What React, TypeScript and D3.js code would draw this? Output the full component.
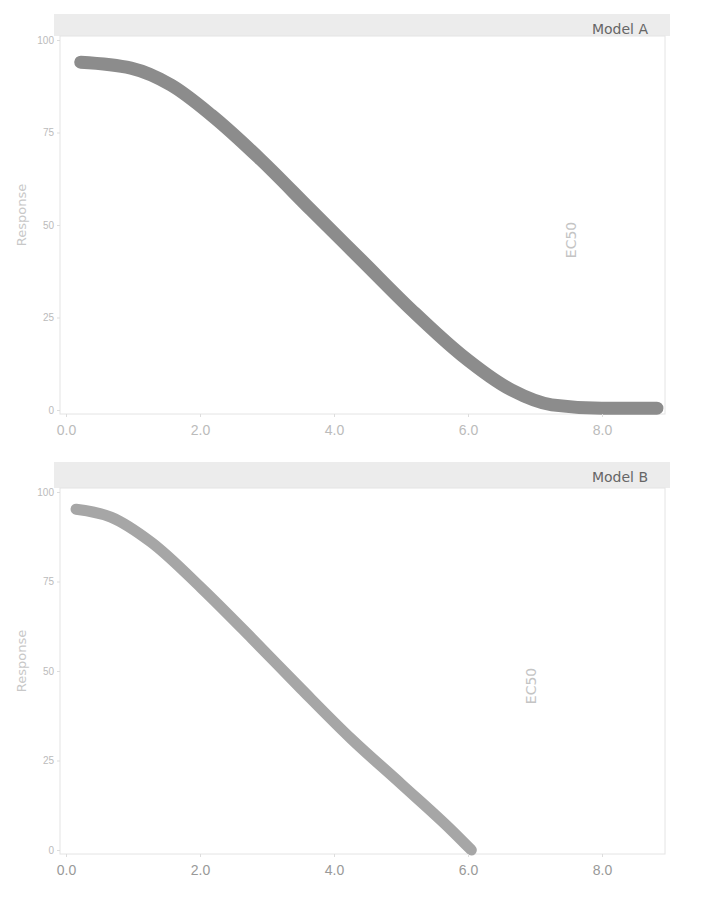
import React, { useEffect, useRef } from 'react';
import * as d3 from 'd3';

// values (x in dose units, y in percent)
const topDose = [0.22, 0.97, 1.57, 2.17, 2.91, 3.66, 4.41, 5.16, 5.9, 6.65, 7.25, 8.0, 8.82];
const topResponse = [94, 92.4, 87.8, 79.7, 67.6, 54, 40.5, 27, 14.9, 5.4, 1.4, 0.5, 0.5];
const bottomDose = [0.15, 0.67, 1.27, 2.02, 2.77, 3.51, 4.26, 5.01, 5.75, 6.05];
const bottomResponse = [95.2, 93, 86, 73.2, 59.2, 45, 31, 18.3, 5.6, 0];
const xTicks = [0, 2, 4, 6, 8];
const yTicks = [0, 25, 50, 75, 100];
const panelTitles = ['Model A', 'Model B'];
const panelNotes = ['EC50', 'EC50'];

const width = 688;
const height = 899;

const App: React.FC = () => {
  const ref = useRef<SVGSVGElement>(null);

  useEffect(() => {
    const svg = d3.select(ref.current);
    svg.selectAll('*').remove();

    const x = d3.scaleLinear().domain([0, 8]).range([58, 594]);

    const panels = [
      { top: 32, bottom: 402, strip: 6, dose: topDose, resp: topResponse },
      { top: 484, bottom: 842, strip: 454, dose: bottomDose, resp: bottomResponse },
    ];

    panels.forEach((p, i) => {
      const y = d3.scaleLinear().domain([0, 100]).range([p.bottom, p.top]);
      const g = svg.append('g');

      // strip header
      g.append('rect')
        .attr('x', 46)
        .attr('y', p.strip)
        .attr('width', 616)
        .attr('height', p.top - p.strip - 4)
        .attr('fill', '#ececec');
      g.append('text')
        .attr('x', 640)
        .attr('y', p.strip + 20)
        .attr('text-anchor', 'end')
        .attr('font-family', 'DejaVu Sans')
        .attr('font-size', 14)
        .attr('fill', '#666')
        .text(panelTitles[i]);

      // frame
      g.append('rect')
        .attr('x', 52)
        .attr('y', p.top - 4)
        .attr('width', 605)
        .attr('height', p.bottom - p.top + 8)
        .attr('fill', 'none')
        .attr('stroke', '#e4e4e4');

      const line = d3
        .line<number>()
        .x((_d, k) => x(p.dose[k]))
        .y((d) => y(d))
        .curve(d3.curveMonotoneX);

      g.append('path')
        .datum(p.resp)
        .attr('d', line)
        .attr('fill', 'none')
        .attr('stroke', i === 0 ? '#8c8c8c' : '#a6a6a6')
        .attr('stroke-width', i === 0 ? 13 : 11)
        .attr('stroke-linecap', 'round');

      // axes
      const yAxis = g
        .append('g')
        .attr('transform', `translate(52,0)`)
        .call(d3.axisLeft(y).tickValues(yTicks).tickSize(3));
      yAxis.select('.domain').remove();
      yAxis.selectAll('text').attr('fill', '#bbb').attr('font-size', 10);
      yAxis.selectAll('line').attr('stroke', '#ddd');

      const xAxis = g
        .append('g')
        .attr('transform', `translate(0,${p.bottom + 4})`)
        .call(d3.axisBottom(x).tickValues(xTicks).tickSize(3).tickFormat(d3.format('.1f')));
      xAxis.select('.domain').remove();
      xAxis
        .selectAll('text')
        .attr('fill', i === 0 ? '#bbb' : '#999')
        .attr('font-size', 14)
        .attr('dy', '1.1em');
      xAxis.selectAll('line').attr('stroke', '#ddd');

      // y axis title
      const midY = (p.top + p.bottom) / 2;
      g.append('text')
        .attr('transform', `translate(18,${midY - 10}) rotate(-90)`)
        .attr('text-anchor', 'middle')
        .attr('font-family', 'DejaVu Sans')
        .attr('font-size', 13)
        .attr('fill', '#c8c8c8')
        .text('Response');

      // note text on the right
      g.append('text')
        .attr('transform', `translate(${i === 0 ? 568 : 528},${midY + 15}) rotate(-90)`)
        .attr('text-anchor', 'middle')
        .attr('font-family', 'DejaVu Sans')
        .attr('font-size', 14)
        .attr('fill', '#c4c4c4')
        .text(panelNotes[i]);
    });
  }, []);

  return <svg ref={ref} width={width} height={height} style={{ display: 'block' }} />;
};

export default App;
